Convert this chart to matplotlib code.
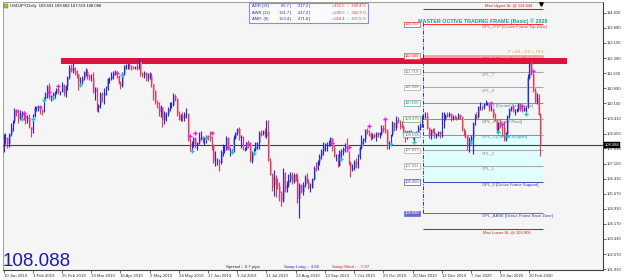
import matplotlib
matplotlib.use("Agg")
import matplotlib.pyplot as plt
import matplotlib.transforms as mtransforms
from matplotlib.patches import Rectangle
import numpy as np

plt.rcParams['font.family'] = ['Liberation Sans', 'DejaVu Sans']

# ------------------------------------------------------------------ data
header_text = "USDJPY,Daily  109.591 109.682 107.519 108.088"
date_labels = ["10 Jan 2019", "1 Feb 2019", "25 Feb 2019", "19 Mar 2019", "10 Apr 2019",
               "2 May 2019", "24 May 2019", "17 Jun 2019", "9 Jul 2019", "31 Jul 2019",
               "22 Aug 2019", "13 Sep 2019", "7 Oct 2019", "29 Oct 2019", "20 Nov 2019",
               "12 Dec 2019", "7 Jan 2020", "29 Jan 2020", "20 Feb 2020"]
bars_per_label = 16
price_ticks = [114.630, 113.890, 113.150, 112.390, 111.650, 110.890, 110.150, 109.410,
               108.650, 107.910, 107.150, 106.410, 105.670, 104.910, 104.170, 103.430,
               102.670, 101.930]

opens = [
    108.15,108.40,108.45,108.15,108.65,108.95,109.25,109.75,109.65,109.35,109.60,109.65,109.55,109.35,109.40,109.00,
    108.85,109.50,109.90,109.95,109.95,109.80,109.70,110.40,110.45,111.00,110.45,110.50,110.60,110.65,110.85,110.70,110.70,111.05,110.60,111.00,
    111.40,111.90,111.75,111.90,111.75,111.60,111.20,111.20,111.35,111.70,111.70,111.45,111.40,111.40,110.70,110.85,109.90,110.05,110.60,110.55,110.65,
    110.85,111.35,111.35,111.50,111.65,111.70,111.50,111.15,111.00,111.60,112.00,112.00,112.05,112.00,111.95,111.90,111.95,111.85,112.20,111.60,111.55,111.65,
    111.40,111.45,111.50,111.10,110.75,110.20,110.10,109.70,109.95,109.30,109.60,109.60,109.85,110.05,110.05,110.50,110.35,109.60,109.30,109.50,109.40,109.60,109.60,
    108.30,108.00,108.15,108.45,108.10,108.20,108.45,108.50,108.35,108.40,108.55,108.50,108.40,108.05,107.30,107.30,107.30,107.20,107.75,107.80,
    107.85,108.45,107.85,107.85,107.85,108.45,108.70,108.90,108.45,108.50,107.90,107.90,108.25,108.20,107.30,107.70,107.85,108.20,108.20,108.70,108.65,108.75,108.55,
    108.75,107.30,106.60,105.95,106.50,106.10,106.05,105.70,105.30,106.70,105.90,106.10,106.35,106.60,106.25,106.60,106.40,105.40,106.10,105.75,106.10,106.50,
    106.25,105.95,105.95,106.40,106.95,106.90,107.25,107.55,107.80,108.10,108.10,108.15,108.15,108.45,107.95,107.55,107.55,107.05,107.75,107.80,107.90,
    108.10,107.75,107.20,106.90,106.95,107.25,107.10,107.50,107.95,108.30,108.40,108.85,108.75,108.65,108.45,108.60,108.50,108.70,108.60,108.65,108.95,108.85,108.80,
    108.05,108.20,108.60,109.15,108.95,109.30,109.25,109.05,109.00,108.80,108.45,108.80,108.65,108.60,108.55,108.65,108.70,108.95,109.05,109.50,109.50,
    109.50,108.95,108.60,108.85,108.75,108.60,108.65,108.75,108.55,109.35,109.35,109.55,109.50,109.60,109.35,109.45,109.40,109.35,109.55,109.45,108.85,
    108.65,108.55,108.10,108.35,108.45,109.10,109.50,109.45,109.95,109.95,109.90,110.15,110.15,110.15,109.85,109.85,109.50,109.30,108.85,109.15,109.00,108.95,
    108.35,108.65,109.50,109.85,109.95,109.75,109.75,109.80,110.10,109.80,109.75,109.90,110.00,111.40,112.10,111.60,110.75,110.20,110.40,109.591]

highs = [
    108.65,108.70,108.50,108.70,109.15,109.30,109.90,109.80,109.85,109.80,109.75,109.75,109.60,109.55,109.60,109.00,
    109.60,110.00,110.00,110.05,109.95,109.85,110.45,110.70,111.05,111.15,110.55,110.70,110.75,110.90,110.95,110.75,111.20,111.10,111.05,111.50,
    112.05,112.10,112.15,111.95,111.80,111.60,111.45,111.50,111.75,111.90,111.85,111.60,111.60,111.70,110.95,110.95,110.10,110.70,110.70,110.90,111.00,
    111.40,111.45,111.70,111.75,111.80,111.75,111.55,111.25,111.70,112.05,112.10,112.15,112.15,112.05,112.00,112.00,112.15,112.40,112.25,111.70,111.75,111.70,
    111.65,111.70,111.65,111.10,110.80,110.30,110.20,110.05,109.95,109.75,109.70,109.95,110.20,110.20,110.65,110.60,110.40,109.75,109.60,109.70,109.70,109.90,109.65,
    108.45,108.30,108.50,108.50,108.25,108.75,108.80,108.55,108.50,108.60,108.60,108.80,108.55,108.15,107.80,107.45,107.40,107.85,108.15,108.10,
    108.55,108.50,107.95,107.90,108.60,108.75,108.95,109.00,108.60,108.55,108.00,108.25,108.35,108.25,107.80,107.95,108.25,108.25,108.80,108.85,108.85,108.95,109.30,
    109.30,107.45,106.70,106.85,106.60,106.45,106.25,105.80,106.95,106.75,106.30,106.65,106.75,106.75,106.70,106.70,106.65,106.20,106.15,106.25,106.60,106.70,
    106.40,106.20,106.45,107.05,107.25,107.35,107.65,107.90,108.25,108.20,108.25,108.35,108.50,108.45,108.10,107.65,107.65,107.85,107.90,108.00,108.20,
    108.45,107.80,107.30,107.15,107.35,107.45,107.65,108.05,108.60,108.45,108.90,108.95,108.85,108.75,108.70,108.70,108.75,108.75,108.75,109.05,109.05,109.30,108.90,
    108.30,108.65,109.25,109.20,109.50,109.45,109.30,109.25,109.05,108.85,108.80,108.85,108.85,108.75,108.75,108.80,109.05,109.15,109.55,109.60,109.70,
    109.70,109.00,108.90,108.95,108.95,108.70,108.80,108.80,109.70,109.70,109.60,109.70,109.70,109.65,109.55,109.55,109.50,109.65,109.60,109.50,108.95,
    108.85,108.60,108.50,108.60,109.20,109.60,109.70,110.00,110.20,110.00,110.15,110.30,110.20,110.20,110.05,109.90,109.65,109.30,109.20,109.35,109.10,109.25,
    108.75,109.55,109.90,110.00,110.05,109.85,109.90,110.15,110.15,109.95,109.95,110.00,111.60,112.20,112.25,111.65,110.90,110.65,110.60,109.682]

lows = [
    107.75,108.15,107.95,108.00,108.55,108.80,109.15,109.50,109.15,109.30,109.40,109.30,109.10,109.15,108.95,108.50,
    108.70,109.45,109.75,109.75,109.60,109.55,109.70,110.35,110.40,110.35,110.25,110.50,110.40,110.60,110.60,110.55,110.70,110.50,110.45,110.80,
    111.35,111.70,111.65,111.55,111.40,110.80,111.00,111.10,111.30,111.50,111.35,111.30,111.25,110.65,110.30,109.75,109.70,109.90,110.20,110.10,110.55,
    110.80,111.15,111.30,111.35,111.55,111.40,111.10,110.85,110.95,111.55,111.85,111.85,111.85,111.80,111.85,111.85,111.80,111.85,111.50,111.45,111.40,111.25,
    111.25,111.35,110.95,110.30,110.10,109.90,109.50,109.45,109.00,109.10,109.25,109.50,109.75,109.90,110.00,110.25,109.50,109.30,109.25,109.25,109.25,109.40,108.30,
    107.80,107.80,108.00,107.95,107.85,108.15,108.35,108.20,108.10,108.20,108.35,108.30,107.85,107.20,107.05,107.10,106.80,107.15,107.55,107.70,
    107.85,107.85,107.55,107.70,107.75,108.40,108.60,108.35,107.95,107.85,107.80,107.85,107.95,107.25,107.20,107.60,107.80,107.90,107.90,108.55,108.60,108.50,108.45,
    107.30,106.60,105.80,105.55,105.50,105.90,105.30,105.05,105.25,105.75,105.75,106.00,106.25,106.15,106.20,106.30,105.20,104.45,105.70,105.60,106.00,106.20,
    105.90,105.75,105.95,106.35,106.80,106.85,107.10,107.40,107.60,107.80,107.80,108.05,108.05,107.80,107.50,107.30,107.00,107.05,107.45,107.60,107.75,
    107.75,107.10,106.50,106.80,106.85,106.95,106.95,107.40,107.90,108.15,108.25,108.65,108.55,108.35,108.40,108.45,108.30,108.50,108.45,108.60,108.75,108.70,107.90,
    107.90,108.20,108.55,108.80,108.85,109.15,108.90,108.95,108.65,108.25,108.40,108.55,108.50,108.40,108.25,108.50,108.65,108.85,109.00,109.40,109.40,
    108.90,108.45,108.40,108.70,108.45,108.45,108.55,108.45,108.50,108.95,109.30,109.45,109.45,109.25,109.30,109.35,109.30,109.35,109.35,108.80,108.55,
    108.45,107.85,107.75,108.25,107.65,109.05,109.35,109.40,109.80,109.80,109.85,110.05,110.05,109.75,109.75,109.40,109.25,108.75,108.75,108.95,108.55,108.30,
    108.30,108.60,109.40,109.75,109.70,109.55,109.70,109.75,109.75,109.70,109.75,109.70,109.90,111.35,111.55,110.70,110.15,110.10,109.55,107.519]

closes = [
    108.40,108.45,108.15,108.65,108.95,109.25,109.75,109.65,109.35,109.60,109.65,109.55,109.35,109.40,109.00,108.85,
    109.50,109.90,109.95,109.95,109.80,109.70,110.40,110.45,111.00,110.45,110.50,110.60,110.65,110.85,110.70,110.70,111.05,110.60,111.00,111.40,
    111.90,111.75,111.90,111.75,111.60,111.20,111.20,111.35,111.70,111.70,111.45,111.40,111.40,110.70,110.85,109.90,110.05,110.60,110.55,110.65,110.85,
    111.35,111.35,111.50,111.65,111.70,111.50,111.15,111.00,111.60,112.00,112.00,112.05,112.00,111.95,111.90,111.95,111.85,112.20,111.60,111.55,111.65,111.40,
    111.45,111.50,111.10,110.75,110.20,110.10,109.70,109.95,109.30,109.60,109.60,109.85,110.05,110.05,110.50,110.35,109.60,109.30,109.50,109.40,109.60,109.60,108.30,
    108.00,108.15,108.45,108.10,108.20,108.45,108.50,108.35,108.40,108.55,108.50,108.40,108.05,107.30,107.30,107.30,107.20,107.75,107.80,107.85,
    108.45,107.85,107.85,107.85,108.45,108.70,108.90,108.45,108.50,107.90,107.90,108.25,108.20,107.30,107.70,107.85,108.20,108.20,108.70,108.65,108.75,108.55,108.75,
    107.30,106.60,105.95,106.50,106.10,106.05,105.70,105.30,106.70,105.90,106.10,106.35,106.60,106.25,106.60,106.40,105.40,106.10,105.75,106.10,106.50,106.25,
    105.95,105.95,106.40,106.95,106.90,107.25,107.55,107.80,108.10,108.10,108.15,108.15,108.45,107.95,107.55,107.55,107.05,107.75,107.80,107.90,108.10,
    107.75,107.20,106.90,106.95,107.25,107.10,107.50,107.95,108.30,108.40,108.85,108.75,108.65,108.45,108.60,108.50,108.70,108.60,108.65,108.95,108.85,108.80,108.05,
    108.20,108.60,109.15,108.95,109.30,109.25,109.05,109.00,108.80,108.45,108.80,108.65,108.60,108.55,108.65,108.70,108.95,109.05,109.50,109.50,109.50,
    108.95,108.60,108.85,108.75,108.60,108.65,108.75,108.55,109.35,109.35,109.55,109.50,109.60,109.35,109.45,109.40,109.35,109.55,109.45,108.85,108.65,
    108.55,108.10,108.35,108.45,109.10,109.50,109.45,109.95,109.95,109.90,110.15,110.15,110.15,109.85,109.85,109.50,109.30,108.85,109.15,109.00,108.95,108.35,
    108.65,109.50,109.85,109.95,109.75,109.75,109.80,110.10,109.80,109.75,109.90,110.00,111.40,112.10,111.60,110.75,110.20,110.40,109.55,108.088]

last_price = 108.088

# fractal-style markers (bar index, price)
up_mark_idx = [7, 11, 20, 25, 30, 62, 102, 105, 114, 123, 134, 180, 189, 200, 209, 267, 273, 284, 290]
up_mark_px = [109.77, 109.67, 109.97, 110.72, 111.02, 111.66, 108.53, 108.68, 108.68, 107.98, 108.13,
              108.18, 107.98, 109.03, 109.37, 110.17, 109.12, 110.02, 111.75]
dn_mark_idx = [10, 16, 22, 27, 42, 65, 103, 111, 125, 137, 185, 212, 225, 256, 271, 276, 286]
dn_mark_px = [109.37, 109.37, 110.32, 110.41, 111.06, 111.55, 107.79, 108.43, 107.74, 107.69, 107.39,
              108.13, 108.23, 108.23, 108.73, 108.53, 109.62]

# octave frame levels
opl_names = ["OPL_TOP [Octive Frame Top Zone]", "OPL_8 [Octive Frame Resistance]", "OPL_7", "OPL_6",
             "OPL_5 [Central Resistance]", "OPL_4 [Central Pivot]", "OPL_3 [Central Support]",
             "OPL_2", "OPL_1", "OPL_0 [Octive Frame Support]", "OPL_BASE [Octive Frame Base Zone]"]
opl_values = [114.063, 112.500, 111.719, 110.938, 110.156, 109.375, 108.594, 107.813, 107.031, 106.250, 104.688]
max_upper_sl = 114.844
max_lower_sl = 103.906
resistance_zone = [112.11, 112.39]
frame_title = "MASTER OCTIVE TRADING FRAME (Basic) \u00a9 2020"
po_text = "P = 68 :: OO = 79.1"

adr_names = ["ADR (21)", "AWR (13)", "AMR  (8)"]
adr_avg = [65.7, 121.7, 153.4]
adr_now = [217.2, 417.2, 471.8]
adr_diff = [151.5, 295.5, 318.4]
adr_pct = [330.4, 342.9, 307.5]

spread_pips = 0.7
swap_long = 3.65
swap_short = -7.97

# ------------------------------------------------------------------ styles
opl_line_colors = ['#ff3030', '#f4a0a0', '#a8a8a8', '#a8a8a8', '#5fa8a8', '#6aa86a', '#5fa8a8',
                   '#a8a8a8', '#a8a8a8', '#4a4ab8', '#6a6ac8']
opl_text_colors = ['#ff3030', '#e02020', '#808080', '#808080', '#2a9090', '#3a8a3a', '#2a9a9a',
                   '#808080', '#808080', '#3a3ab0', '#3a3ab0']
box_face = ['white', '#fff0f0', 'white', 'white', 'white', 'white', 'white', 'white', 'white', 'white', '#6a6ad0']
box_text = ['#ff3030', '#e02020', '#707070', '#707070', '#2a9090', '#3a8a3a', '#2a9090', '#707070',
            '#707070', '#3a3ab0', 'white']

# ------------------------------------------------------------------ figure
W, H = 625, 280
fig = plt.figure(figsize=(W / 100, H / 100), dpi=100)
fig.patch.set_facecolor('white')

AX_L, AX_R, AX_T, AX_B = 2.7, 603.0, 2.0, 269.5
ax = fig.add_axes([AX_L / W, 1 - AX_B / H, (AX_R - AX_L) / W, (AX_B - AX_T) / H])
ax.set_facecolor('#f5f5f5')

BAR0_PX, PX_PER_BAR = 3.5, 1.826
PRICE_AT_13, PX_PER_UNIT = 114.63, 20.16


def price_at(ypx):
    return PRICE_AT_13 - (ypx - 13) / PX_PER_UNIT


def idx_at(xpx):
    return (xpx - BAR0_PX) / PX_PER_BAR


ax.set_xlim(idx_at(AX_L), idx_at(AX_R))
ax.set_ylim(price_at(AX_B), price_at(AX_T))

o = np.array(opens); h = np.array(highs); l = np.array(lows); c = np.array(closes)
idx = np.arange(len(c))
up = c >= o

# bars
ax.bar(idx + 0.45, c - o, bottom=o, width=1.0,
       color=np.where(up, '#a9adee', '#f3a6b6'), zorder=3, linewidth=0)
ax.vlines(idx, l, h, colors=np.where(up, '#2a2ad0', '#e23c5c'), linewidth=0.85, zorder=4)

ax.plot(up_mark_idx, up_mark_px, 'P', color='#ff10ff', ms=3.0, mew=0, zorder=5)
ax.plot(dn_mark_idx, dn_mark_px, 'P', color='#10c8c8', ms=3.0, mew=0, zorder=5)

# octave frame
fx0 = idx_at(423)
fx1 = idx_at(543)
tx = idx_at(482)
lbl_x = idx_at(419)

ax.fill_between([fx0, fx1], opl_values[9], opl_values[6], color='#e0ffff', zorder=1, linewidth=0)
ax.fill_between([idx_at(61), idx_at(567)], resistance_zone[0], resistance_zone[1],
                color='#dc143c', zorder=2.6, linewidth=0)

for i, (name, v) in enumerate(zip(opl_names, opl_values)):
    lw = 2.0 if i == 1 else 0.75
    ax.hlines(v, fx0, fx1, color=opl_line_colors[i], linewidth=lw, zorder=2)
    ax.text(tx, v - 0.03, name, fontsize=3.0, color=opl_text_colors[i], ha='left', va='top',
            zorder=2.5)
    ax.text(lbl_x, v, f"{v:.3f}", fontsize=3.0, color=box_text[i], ha='right', va='center',
            zorder=6, bbox=dict(boxstyle='square,pad=0.18', fc=box_face[i],
                                ec=opl_line_colors[i] if i != 1 else '#e05050', lw=0.5))

ax.hlines([max_upper_sl, max_lower_sl], fx0, fx1, color='#d0103a', linewidth=0.75, zorder=2)
ax.text(idx_at(485), max_upper_sl + 0.03, f"Max Upper SL @ {max_upper_sl:.3f}", fontsize=3.0,
        color='#e01030', ha='left', va='bottom', zorder=6)
ax.text(idx_at(483), max_lower_sl - 0.04, f"Max Lower SL @ {max_lower_sl:.3f}", fontsize=3.0,
        color='#e01030', ha='left', va='top', zorder=6)
ax.vlines(fx0, opl_values[-1], price_at(20.5), color='#3030d0', linewidth=0.7,
          linestyle=(0, (4, 1.5, 1, 1.5)), zorder=2)
ax.text(idx_at(482.5), price_at(20.7), frame_title, fontsize=3.9, fontweight='bold',
        color='#1a9a9a', ha='center', va='center', zorder=6)
ax.text(idx_at(543), opl_values[1] + 0.08, po_text, fontsize=3.0, color='#c8a020',
        ha='right', va='bottom', zorder=6)

# current price line
ax.axhline(last_price, color='#404040', linewidth=0.8, zorder=2.8)

# shift marker
ax.plot([len(c) - 0.5], [price_at(3.5)], marker='v', color='black', ms=2.5, zorder=7,
        clip_on=False)

# axes styling
for s in ['left', 'top']:
    ax.spines[s].set_color('#909090'); ax.spines[s].set_linewidth(0.6)
for s in ['right', 'bottom']:
    ax.spines[s].set_color('#404040'); ax.spines[s].set_linewidth(0.8)

ax.yaxis.tick_right()
ax.set_yticks(price_ticks)
ax.set_yticklabels([f"{p:.3f}" for p in price_ticks])
ax.tick_params(axis='y', length=2, width=0.5, pad=1, labelsize=3.0, colors='#303030')
ax.set_xticks(np.arange(len(date_labels)) * bars_per_label)
ax.set_xticklabels(date_labels, ha='left')
ax.tick_params(axis='x', length=2, width=0.5, pad=1, labelsize=3.1, colors='#303030')

ax.text(1.003, last_price, f"{last_price:.3f}", transform=mtransforms.blended_transform_factory(
    ax.transAxes, ax.transData), fontsize=3.0, color='white', ha='left', va='center',
    bbox=dict(boxstyle='square,pad=0.2', fc='black', ec='black', lw=0.3), zorder=8, clip_on=False)


# ------------------------------------------------------------------ pixel-positioned texts
def ftext(xpx, ypx, s, **kw):
    fig.text(xpx / W, 1 - ypx / H, s, **kw)


fig.add_artist(Rectangle((3.5 / W, 1 - 7.5 / H), 4 / W, 4 / H, transform=fig.transFigure,
                         fc='#9acd32', ec='#507020', lw=0.3))
ftext(10, 5.5, header_text, fontsize=3.0, color='#101010', va='center', ha='left')

fig.add_artist(Rectangle((249 / W, 1 - 23 / H), 119 / W, 20 / H, transform=fig.transFigure,
                         fc='#fbfbff', ec='#8c8ce6', lw=0.8))
row_y = [6.3, 12.8, 19.3]
for i in range(3):
    ftext(251.5, row_y[i], adr_names[i], fontsize=3.0, color='#2a2ab8', va='center', ha='left')
    ftext(291, row_y[i], f"{adr_avg[i]:.1f} |", fontsize=3.0, color='#2a2ab8', va='center', ha='right')
    ftext(310, row_y[i], f"{adr_now[i]:.1f} |", fontsize=3.0, color='#2a2ab8', va='center', ha='right')
    ftext(366, row_y[i], f"+{adr_diff[i]:.1f}  ::  {adr_pct[i]:.1f} %", fontsize=3.0,
          color='#e03030', va='center', ha='right')

ftext(3, 261.5, f"{last_price:.3f}", fontsize=13.5, color='#1a1aa8', va='center', ha='left')
ftext(226.5, 267.0, f"Spread :: {spread_pips} pips", fontsize=3.2, color='#303030', va='center')
ftext(284, 267.0, f"Swap Long :: {swap_long}", fontsize=3.2, color='#2a2ae0', va='center')
ftext(332, 267.0, f"Swap Short :: {swap_short}", fontsize=3.2, color='#e02020', va='center')

fig.savefig("out.png", dpi=100, facecolor=fig.get_facecolor())
